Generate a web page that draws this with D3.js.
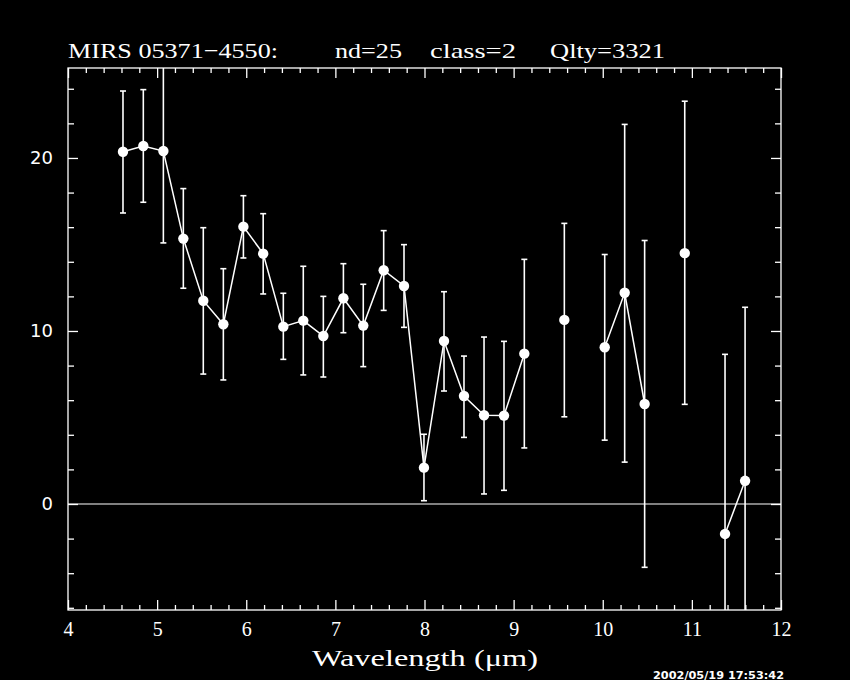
<!DOCTYPE html>
<html><head><meta charset="utf-8">
<script src="https://cdn.jsdelivr.net/npm/d3@7"></script>
<style>html,body{margin:0;padding:0;background:#000;}svg{display:block;}</style>
</head><body>
<script>
const wavelength = [4.617,4.845,5.07,5.294,5.518,5.743,5.968,6.19,6.416,6.64,6.865,7.09,7.313,7.542,7.77,7.994,8.219,8.443,8.668,8.892,9.12,9.569,10.022,10.246,10.47,10.92,11.372,11.597];
const flux      = [20.36,20.69,20.40,15.34,11.75,10.39,16.03,14.47,10.25,10.60,9.71,11.89,10.31,13.51,12.60,2.10,9.42,6.24,5.13,5.11,8.69,10.64,9.06,12.21,5.78,14.50,-1.73,1.34];
const errHigh   = [23.87,23.95,25.7,18.23,15.97,13.60,17.82,16.78,12.18,13.74,12.0,13.89,12.70,15.80,14.99,4.03,12.27,8.55,9.65,9.40,14.14,16.22,14.42,21.94,15.23,23.28,8.65,11.37];
const errLow    = [16.82,17.44,15.09,12.47,7.51,7.17,14.22,12.14,8.36,7.46,7.34,9.90,7.94,11.19,10.21,0.19,6.53,3.85,0.58,0.79,3.24,5.04,3.69,2.42,-3.66,5.76,-12.1,-8.69];
const segment   = [1,1,1,1,1,1,1,1,1,1,1,1,1,1,1,1,1,1,1,1,1,2,3,3,3,4,5,5];
const xMajorTicks = [4,5,6,7,8,9,10,11,12];
const yMajorTicks = [0,10,20];
const titleParts = ["MIRS 05371\u22124550:", "nd=25", "class=2", "Qlty=3321"];
const xLabel = "Wavelength (\u03bcm)";
const stamp = "2002/05/19 17:53:42";

const W = 850, H = 680;
const L = 68, R = 781, T = 68, B = 610;
const svg = d3.select("body").append("svg").attr("width", W).attr("height", H)
  .style("background", "#000");
svg.append("rect").attr("width", W).attr("height", H).attr("fill", "#000");

const x = d3.scaleLinear().domain([4, 12]).range([L, R]);
const y = d3.scaleLinear().domain([-6.127, 25.2]).range([B, T]);

const data = wavelength.map((w, i) => ({w, f: flux[i], hi: errHigh[i], lo: errLow[i], s: segment[i]}));

svg.append("defs").append("clipPath").attr("id", "clip")
  .append("rect").attr("x", L).attr("y", T).attr("width", R - L).attr("height", B - T);

// frame
svg.append("rect").attr("x", L).attr("y", T).attr("width", R - L).attr("height", B - T)
  .attr("fill", "none").attr("stroke", "#fff").attr("stroke-width", 1.3);

const xMinor = d3.range(4, 12.001, 0.2).filter(v => Math.abs(v - Math.round(v)) > 1e-6);
const yMinor = d3.range(-6, 25, 2).filter(v => v % 10 !== 0);

function styleAxis(g) {
  g.select(".domain").remove();
  g.selectAll(".tick line").attr("stroke", "#fff").attr("stroke-width", 1.3);
}
// bottom
svg.append("g").attr("transform", `translate(0,${B})`)
  .call(d3.axisBottom(x).tickValues(xMinor).tickSize(-5).tickFormat(""))
  .call(styleAxis);
svg.append("g").attr("transform", `translate(0,${B})`)
  .call(d3.axisBottom(x).tickValues(xMajorTicks).tickSize(-10).tickPadding(12).tickFormat(d3.format("d")))
  .call(styleAxis)
  .call(g => g.selectAll("text").attr("fill", "#fff").attr("font-family", "Liberation Serif, serif").attr("font-size", 20));
// top
svg.append("g").attr("transform", `translate(0,${T})`)
  .call(d3.axisTop(x).tickValues(xMinor).tickSize(-5).tickFormat("")).call(styleAxis);
svg.append("g").attr("transform", `translate(0,${T})`)
  .call(d3.axisTop(x).tickValues(xMajorTicks).tickSize(-10).tickFormat("")).call(styleAxis);
// left
svg.append("g").attr("transform", `translate(${L},0)`)
  .call(d3.axisLeft(y).tickValues(yMinor).tickSize(-6).tickFormat("")).call(styleAxis);
svg.append("g").attr("transform", `translate(${L},0)`)
  .call(d3.axisLeft(y).tickValues(yMajorTicks).tickSize(-10).tickPadding(15).tickFormat(d3.format("d")))
  .call(styleAxis)
  .call(g => g.selectAll("text").attr("fill", "#fff").attr("font-family", "DejaVu Sans, sans-serif").attr("font-size", 18));
// right
svg.append("g").attr("transform", `translate(${R},0)`)
  .call(d3.axisRight(y).tickValues(yMinor).tickSize(-6).tickFormat("")).call(styleAxis);
svg.append("g").attr("transform", `translate(${R},0)`)
  .call(d3.axisRight(y).tickValues(yMajorTicks).tickSize(-10).tickFormat("")).call(styleAxis);

// zero line
svg.append("line").attr("x1", L).attr("x2", R).attr("y1", y(0)).attr("y2", y(0))
  .attr("stroke", "#fff").attr("stroke-width", 1.2);

const plot = svg.append("g").attr("clip-path", "url(#clip)");

// error bars
const eb = plot.selectAll("g.eb").data(data).join("g").attr("class", "eb");
eb.append("line").attr("x1", d => x(d.w)).attr("x2", d => x(d.w))
  .attr("y1", d => y(d.hi)).attr("y2", d => y(d.lo)).attr("stroke", "#fff").attr("stroke-width", 1.6);
eb.append("line").attr("x1", d => x(d.w) - 3).attr("x2", d => x(d.w) + 3)
  .attr("y1", d => y(d.hi)).attr("y2", d => y(d.hi)).attr("stroke", "#fff").attr("stroke-width", 1.6);
eb.append("line").attr("x1", d => x(d.w) - 3).attr("x2", d => x(d.w) + 3)
  .attr("y1", d => y(d.lo)).attr("y2", d => y(d.lo)).attr("stroke", "#fff").attr("stroke-width", 1.6);

// connecting lines per segment
const line = d3.line().x(d => x(d.w)).y(d => y(d.f));
const groups = d3.groups(data, d => d.s);
plot.selectAll("path.seg").data(groups).join("path").attr("class", "seg")
  .attr("d", g => line(g[1])).attr("fill", "none").attr("stroke", "#fff").attr("stroke-width", 1.5);

// markers
plot.selectAll("circle").data(data).join("circle")
  .attr("cx", d => x(d.w)).attr("cy", d => y(d.f)).attr("r", 5.2).attr("fill", "#fff");

// title
const titleX = [68, 335, 430, 550];
const titleW = [210, 67, 86, 115];
svg.selectAll("text.title").data(titleParts).join("text").attr("class", "title")
  .attr("x", (d, i) => titleX[i]).attr("y", 58)
  .attr("textLength", (d, i) => titleW[i]).attr("lengthAdjust", "spacingAndGlyphs")
  .attr("fill", "#fff").attr("font-family", "Liberation Serif, serif").attr("font-size", 22)
  .text(d => d);

// x label
svg.append("text").attr("x", 425).attr("y", 666).attr("text-anchor", "middle")
  .attr("fill", "#fff").attr("font-family", "Liberation Serif, serif").attr("font-size", 24)
  .attr("textLength", 226).attr("lengthAdjust", "spacingAndGlyphs")
  .text(xLabel);

// timestamp
svg.append("text").attr("x", 653).attr("y", 679)
  .attr("fill", "#fff").attr("font-family", "DejaVu Sans, sans-serif").attr("font-size", 10).attr("font-weight", "bold")
  .attr("textLength", 131).attr("lengthAdjust", "spacingAndGlyphs")
  .text(stamp);
</script>
</body></html>
